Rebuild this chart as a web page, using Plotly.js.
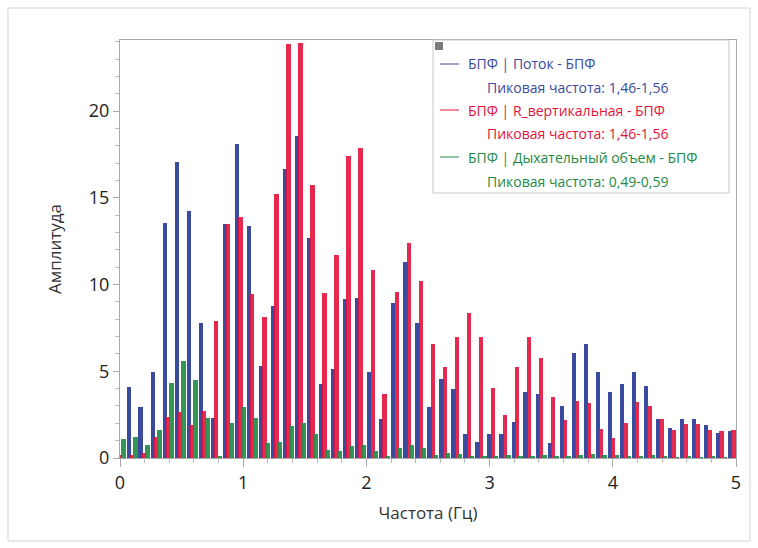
<!DOCTYPE html>
<html><head><meta charset="utf-8">
<script src="https://cdn.plot.ly/plotly-3.0.1.min.js"></script>
<style>html,body{margin:0;padding:0;background:#fff}#chart{width:758px;height:548px}</style>
</head><body><div id="chart"></div>
<script>
// Frequency bins (Hz)
const freqHz = [0, 0.098, 0.195, 0.293, 0.391, 0.488, 0.586, 0.684, 0.781, 0.879,
  0.977, 1.074, 1.172, 1.270, 1.367, 1.465, 1.563, 1.660, 1.758, 1.855,
  1.953, 2.051, 2.148, 2.246, 2.344, 2.441, 2.539, 2.637, 2.734, 2.832,
  2.930, 3.027, 3.125, 3.223, 3.320, 3.418, 3.516, 3.613, 3.711, 3.809,
  3.906, 4.004, 4.102, 4.199, 4.297, 4.395, 4.492, 4.590, 4.688, 4.785,
  4.883, 4.980];
// БПФ | Поток
const flowAmp = [0, 4.07, 2.96, 4.94, 13.56, 17.08, 14.24, 7.76, 2.3, 13.47,
  18.08, 13.37, 5.3, 8.76, 16.64, 18.56, 12.7, 4.26, 5.13, 9.15,
  9.24, 4.94, 2.23, 8.95, 11.28, 7.8, 2.96, 4.53, 3.98, 1.36,
  0.94, 1.36, 1.36, 2.1, 3.78, 3.67, 0.85, 3.0, 6.03, 6.57,
  4.97, 3.82, 4.25, 4.94, 4.15, 2.23, 1.71, 2.23, 2.23, 1.9,
  1.42, 1.56];
// БПФ | R_вертикальная
const rVertAmp = [0.15, 0.17, 0.3, 1.19, 2.38, 2.63, 1.9, 2.7, 7.9, 13.47,
  13.87, 9.43, 8.15, 15.2, 23.86, 23.95, 15.75, 9.49, 11.7, 17.4,
  17.85, 10.84, 3.69, 9.59, 12.37, 10.22, 6.55, 5.23, 6.99, 8.34,
  6.99, 4.05, 2.48, 5.26, 6.96, 5.74, 3.53, 2.19, 3.28, 3.2,
  1.65, 1.13, 2.04, 3.25, 3.0, 2.23, 1.61, 1.94, 1.98, 1.61,
  1.56, 1.61];
// БПФ | Дыхательный объем
const tidalAmp = [1.08, 1.19, 0.75, 1.61, 4.34, 5.59, 4.5, 2.32, 0.1, 2.04,
  2.96, 2.29, 0.85, 0.9, 1.84, 2.04, 1.36, 0.46, 0.4, 0.71,
  0.75, 0.4, 0.1, 0.56, 0.75, 0.56, 0.17, 0.29, 0.23, 0.12,
  0.1, 0.12, 0.15, 0.1, 0.12, 0.15, 0.1, 0.12, 0.2, 0.25,
  0.15, 0.2, 0.12, 0.1, 0.15, 0.1, 0.08, 0.1, 0.08, 0.1,
  0.06, 0.06];

const seriesNames = ['БПФ | Поток - БПФ', 'БПФ | R_вертикальная - БПФ', 'БПФ | Дыхательный объем - БПФ'];
const peakLabels = ['Пиковая частота: 1,46-1,56', 'Пиковая частота: 1,46-1,56', 'Пиковая частота: 0,49-0,59'];
const seriesColors = ['#3a4a9e', '#e3123c', '#1e8a44'];
const xTickVals = [0, 1, 2, 3, 4, 5];
const yTickVals = [0, 5, 10, 15, 20];

// plot-area geometry in pixels (for legend placement)
const L = 120, T = 40, W = 616, H = 418;
const px = x => (x - L) / W;
const py = y => (T + H - y) / H;

const traces = [
  {type: 'bar', x: freqHz, y: flowAmp, width: 0.035, offset: -0.045,
   marker: {color: seriesColors[0]}, name: seriesNames[0], showlegend: false, hoverinfo: 'x+y'},
  {type: 'bar', x: freqHz, y: rVertAmp, width: 0.035, offset: -0.0175,
   marker: {color: seriesColors[1]}, opacity: 0.9, name: seriesNames[1], showlegend: false, hoverinfo: 'x+y'},
  {type: 'bar', x: freqHz, y: tidalAmp, width: 0.035, offset: 0.01,
   marker: {color: seriesColors[2]}, opacity: 0.9, name: seriesNames[2], showlegend: false, hoverinfo: 'x+y'}
];

const shapes = [
  // outer frame
  {type: 'rect', xref: 'paper', yref: 'paper', x0: px(8), x1: px(750), y0: py(541), y1: py(8),
   line: {color: '#d4d4d4', width: 1}},
  // legend box
  {type: 'rect', xref: 'paper', yref: 'paper', x0: px(433), x1: px(729), y0: py(193), y1: py(40),
   line: {color: '#c8c8c8', width: 1}, fillcolor: 'rgba(255,255,255,0.95)', layer: 'above'},
  // close icon
  {type: 'rect', xref: 'paper', yref: 'paper', x0: px(435), x1: px(443), y0: py(50), y1: py(42),
   line: {width: 0}, fillcolor: '#7a7a7a', layer: 'above'}
];
const annotations = [];
const rowY = [64, 87, 110, 133, 157, 181];
for (let i = 0; i < 3; i++) {
  shapes.push({type: 'line', xref: 'paper', yref: 'paper', x0: px(440), x1: px(459),
    y0: py(rowY[2 * i]), y1: py(rowY[2 * i]), line: {color: seriesColors[i], width: 1}, layer: 'above'});
  annotations.push({xref: 'paper', yref: 'paper', x: px(466), y: py(rowY[2 * i]), xanchor: 'left', yanchor: 'middle',
    text: seriesNames[i], showarrow: false, font: {family: 'Open Sans, sans-serif', size: 14, color: seriesColors[i]}});
  annotations.push({xref: 'paper', yref: 'paper', x: px(485), y: py(rowY[2 * i + 1]), xanchor: 'left', yanchor: 'middle',
    text: peakLabels[i], showarrow: false, font: {family: 'Open Sans, sans-serif', size: 14, color: seriesColors[i]}});
}

const layout = {
  width: 758, height: 548,
  margin: {l: L, r: 758 - L - W, t: T, b: 548 - T - H, pad: 0},
  paper_bgcolor: '#ffffff', plot_bgcolor: '#ffffff',
  barmode: 'overlay', bargap: 0,
  showlegend: false,
  font: {family: 'Open Sans, sans-serif', color: '#222'},
  xaxis: {
    range: [0, 5], tickvals: xTickVals, ticktext: xTickVals.map(String),
    showgrid: false, zeroline: false, showline: true, linecolor: '#a8a8a8', linewidth: 1, mirror: true,
    ticks: 'outside', ticklen: 8, tickcolor: '#a8a8a8',
    minor: {dtick: 0.2, ticks: 'outside', ticklen: 4, tickcolor: '#bbbbbb', showgrid: false},
    tickfont: {size: 18, color: '#222'},
    title: {text: 'Частота (Гц)', font: {size: 17, color: '#333'}, standoff: 14}
  },
  yaxis: {
    range: [0, 24.1], tickvals: yTickVals, ticktext: yTickVals.map(String),
    showgrid: false, zeroline: false, showline: true, linecolor: '#a8a8a8', linewidth: 1, mirror: true,
    ticks: 'outside', ticklen: 6, tickcolor: '#a8a8a8',
    minor: {dtick: 1, ticks: 'outside', ticklen: 4, tickcolor: '#bbbbbb', showgrid: false},
    tickfont: {size: 18, color: '#222'},
    title: {text: 'Амплитуда', font: {size: 17, color: '#333'}, standoff: 22}
  },
  shapes: shapes,
  annotations: annotations
};

Plotly.newPlot('chart', traces, layout, {displayModeBar: false, staticPlot: true});
</script>
</body></html>
